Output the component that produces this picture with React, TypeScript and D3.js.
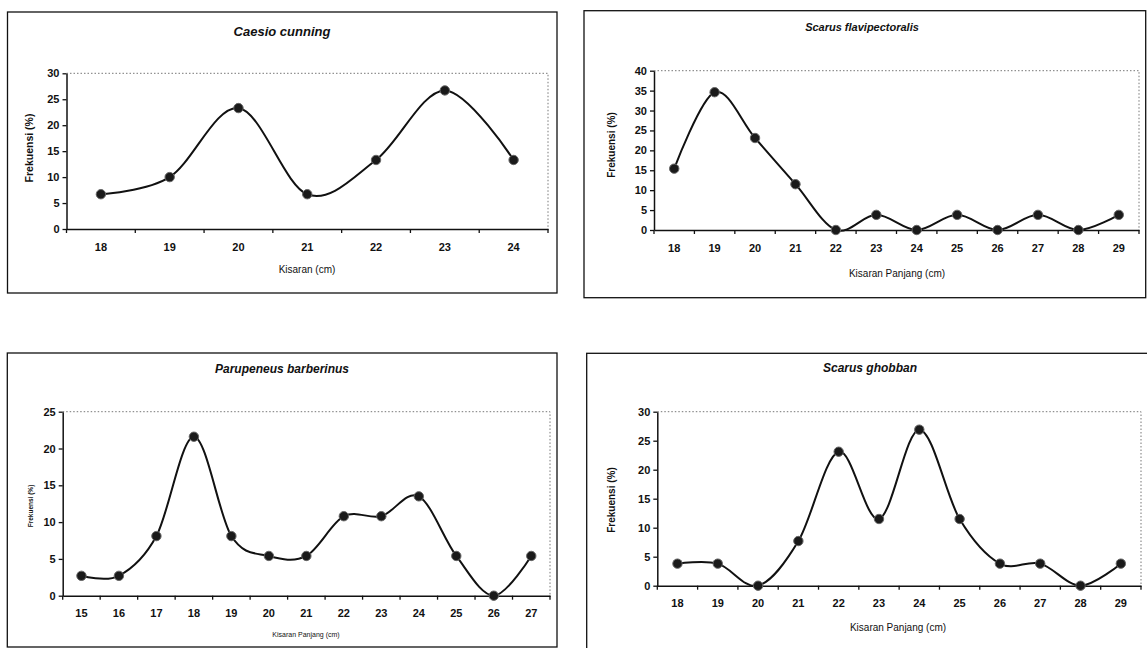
import React, { useEffect, useRef } from 'react';
import * as d3 from 'd3';

// Caesio cunning
const caesioSizes = [18, 19, 20, 21, 22, 23, 24];
const caesioFreq = [6.7, 10, 23.3, 6.7, 13.3, 26.7, 13.3];
const caesioTicks = [0, 5, 10, 15, 20, 25, 30];

// Scarus flavipectoralis
const flaviSizes = [18, 19, 20, 21, 22, 23, 24, 25, 26, 27, 28, 29];
const flaviFreq = [15.4, 34.6, 23.1, 11.5, 0, 3.8, 0, 3.8, 0, 3.8, 0, 3.8];
const flaviTicks = [0, 5, 10, 15, 20, 25, 30, 35, 40];

// Parupeneus barberinus
const barberSizes = [15, 16, 17, 18, 19, 20, 21, 22, 23, 24, 25, 26, 27];
const barberFreq = [2.7, 2.7, 8.1, 21.6, 8.1, 5.4, 5.4, 10.8, 10.8, 13.5, 5.4, 0, 5.4];
const barberTicks = [0, 5, 10, 15, 20, 25];

// Scarus ghobban
const ghobbanSizes = [18, 19, 20, 21, 22, 23, 24, 25, 26, 27, 28, 29];
const ghobbanFreq = [3.8, 3.8, 0, 7.7, 23.1, 11.5, 26.9, 11.5, 3.8, 3.8, 0, 3.8];
const ghobbanTicks = [0, 5, 10, 15, 20, 25, 30];

const panels = [
  {
    title: 'Caesio cunning', xTitle: 'Kisaran (cm)', yTitle: 'Frekuensi (%)',
    sizes: caesioSizes, freq: caesioFreq, ticks: caesioTicks,
    box: [7.5, 12, 557, 293], plot: [66.5, 73.3, 548, 229],
    titleAt: [282, 35.5, 13], xTitleAt: [307, 273, 10], yTitleAt: [33, 148, 10.5]
  },
  {
    title: 'Scarus flavipectoralis', xTitle: 'Kisaran Panjang (cm)', yTitle: 'Frekuensi (%)',
    sizes: flaviSizes, freq: flaviFreq, ticks: flaviTicks,
    box: [584, 10.7, 1145.7, 297.7], plot: [654, 70.7, 1139, 230],
    titleAt: [862, 30.7, 11], xTitleAt: [897, 276.5, 10], yTitleAt: [615, 145, 10]
  },
  {
    title: 'Parupeneus barberinus', xTitle: 'Kisaran Panjang (cm)', yTitle: 'Frekuensi (%)',
    sizes: barberSizes, freq: barberFreq, ticks: barberTicks,
    box: [7.3, 353, 557, 647], plot: [62.7, 411.7, 550, 595.7],
    titleAt: [282, 373.3, 12], xTitleAt: [306, 636.5, 7], yTitleAt: [32.5, 506, 6.5]
  },
  {
    title: 'Scarus ghobban', xTitle: 'Kisaran Panjang (cm)', yTitle: 'Frekuensi (%)',
    sizes: ghobbanSizes, freq: ghobbanFreq, ticks: ghobbanTicks,
    box: [586.7, 353.3, 1152, 660], plot: [657.3, 411.7, 1141, 585.7],
    titleAt: [870, 372, 12], xTitleAt: [898, 630.5, 10], yTitleAt: [615, 500, 10]
  }
];

const font = 'Liberation Sans, Arial, sans-serif';

const App = () => {
  const ref = useRef(null);

  useEffect(() => {
    const svg = d3.select(ref.current);
    svg.selectAll('*').remove();

    panels.forEach(p => {
      const g = svg.append('g').style('font-family', font);
      const [bx0, by0, bx1, by1] = p.box;
      const [left, top, right, bottom] = p.plot;

      g.append('rect')
        .attr('x', bx0).attr('y', by0)
        .attr('width', bx1 - bx0).attr('height', by1 - by0)
        .attr('fill', 'none').attr('stroke', '#111').attr('stroke-width', 1.3);

      const x = d3.scaleBand().domain(p.sizes.map(String)).range([left, right]);
      const y = d3.scaleLinear().domain([0, d3.max(p.ticks)]).range([bottom, top]);

      // dotted plot border (top + right)
      g.append('path')
        .attr('d', `M${left},${top}H${right}V${bottom}`)
        .attr('fill', 'none').attr('stroke', '#777')
        .attr('stroke-width', 1).attr('stroke-dasharray', '1.5,2');

      // y axis
      const yAxis = g.append('g')
        .attr('transform', `translate(${left},0)`)
        .call(d3.axisLeft(y).tickValues(p.ticks).tickSize(4).tickPadding(3).tickSizeOuter(0));
      yAxis.select('.domain').attr('stroke', '#111').attr('stroke-width', 1.5);
      yAxis.selectAll('.tick line').attr('stroke', '#111').attr('stroke-width', 1.3);
      yAxis.selectAll('text')
        .style('font-family', font).style('font-size', '11px')
        .style('font-weight', 'bold').attr('fill', '#111');

      // x axis
      const xAxis = g.append('g')
        .attr('transform', `translate(0,${bottom})`)
        .call(d3.axisBottom(x).tickSize(0).tickPadding(14).tickSizeOuter(0));
      xAxis.select('.domain').attr('stroke', '#111').attr('stroke-width', 1.5);
      xAxis.selectAll('text')
        .style('font-family', font).style('font-size', '11px')
        .style('font-weight', 'bold').attr('fill', '#111');

      const bounds = p.sizes.map(s => x(String(s))).concat([right]);
      g.append('g').selectAll('line')
        .data(bounds)
        .enter().append('line')
        .attr('x1', d => d).attr('x2', d => d)
        .attr('y1', bottom).attr('y2', bottom + 4)
        .attr('stroke', '#111').attr('stroke-width', 1.3);

      // smoothed line
      const pts = p.sizes.map((s, i) => ({ s: String(s), v: p.freq[i] }));
      const line = d3.line()
        .x(d => x(d.s) + x.bandwidth() / 2)
        .y(d => y(d.v))
        .curve(d3.curveCardinal.tension(0));

      g.append('path')
        .attr('d', line(pts))
        .attr('fill', 'none').attr('stroke', '#111').attr('stroke-width', 2);

      g.append('g').selectAll('circle')
        .data(pts)
        .enter().append('circle')
        .attr('cx', d => x(d.s) + x.bandwidth() / 2)
        .attr('cy', d => y(d.v))
        .attr('r', 4.7)
        .attr('fill', '#1a1a1a').attr('stroke', '#666').attr('stroke-width', 1);

      // titles
      g.append('text')
        .attr('x', p.titleAt[0]).attr('y', p.titleAt[1])
        .attr('text-anchor', 'middle')
        .style('font-size', p.titleAt[2] + 'px')
        .style('font-weight', 'bold').style('font-style', 'italic')
        .attr('fill', '#111')
        .text(p.title);

      g.append('text')
        .attr('x', p.xTitleAt[0]).attr('y', p.xTitleAt[1])
        .attr('text-anchor', 'middle')
        .style('font-size', p.xTitleAt[2] + 'px')
        .attr('fill', '#111')
        .text(p.xTitle);

      g.append('text')
        .attr('transform', `translate(${p.yTitleAt[0]},${p.yTitleAt[1]}) rotate(-90)`)
        .attr('text-anchor', 'middle')
        .style('font-size', p.yTitleAt[2] + 'px')
        .style('font-weight', 'bold')
        .attr('fill', '#111')
        .text(p.yTitle);
    });
  }, []);

  return (
    <svg
      ref={ref}
      width={1147}
      height={648}
      style={{ position: 'absolute', left: 0, top: 0, background: '#fff' }}
    />
  );
};

export default App;
